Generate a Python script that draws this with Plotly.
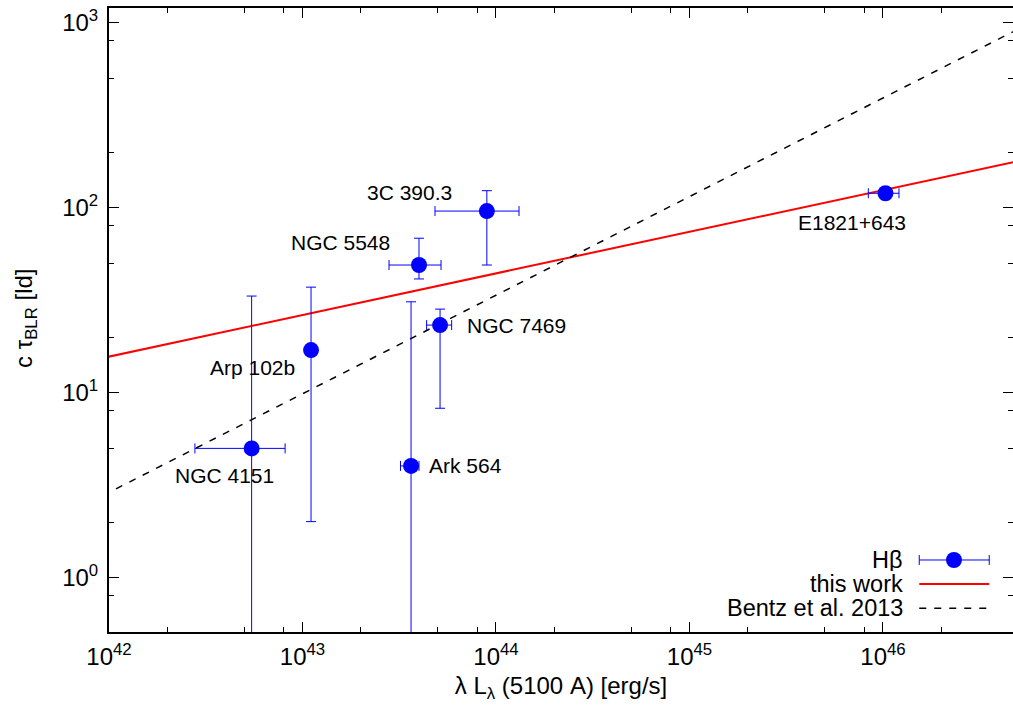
import numpy as np
import plotly.graph_objects as go

# ---------------- data ----------------
names = ["NGC 4151", "Arp 102b", "Ark 564", "NGC 7469", "NGC 5548", "3C 390.3", "E1821+643"]
lum = [5.46e42, 1.107e43, 3.64e43, 5.14e43, 4.0e43, 8.97e43, 1.03e46]
lum_lo = [2.78e42, 1.107e43, 3.21e43, 4.38e43, 2.80e43, 4.84e43, 8.4e45]
lum_hi = [8.13e42, 1.107e43, 4.00e43, 5.90e43, 5.20e43, 1.315e44, 1.21e46]
tau = [5.0, 17.0, 4.02, 23.2, 49.0, 95.9, 119.7]
tau_lo = [0.01, 2.01, 0.01, 8.24, 41.2, 49.0, 119.7]
tau_hi = [33.3, 37.2, 31.0, 28.3, 68.4, 123.6, 119.7]

# relations: log tau = K + alpha * log(L / 1e44)
this_work_K, this_work_alpha = 1.645, 0.225
bentz_K, bentz_alpha = 1.527, 0.533
line_L = [1e41, 1e47]

x_tickvals = [1e42, 1e43, 1e44, 1e45, 1e46]
x_ticktext = ["10<sup>42</sup>", "10<sup>43</sup>", "10<sup>44</sup>", "10<sup>45</sup>", "10<sup>46</sup>"]
y_tickvals = [1, 10, 100, 1000]
y_ticktext = ["10<sup>0</sup>", "10<sup>1</sup>", "10<sup>2</sup>", "10<sup>3</sup>"]

# label placement (pixel offsets from point)
label_anchor = ["center", "center", "left", "left", "right", "right", "right"]
label_dx = [-27, -59, 16, 25, -27, -33, 23]
label_dy = [-27, -17, 0, 0, 23, 19, -29]

FONT = "Liberation Sans, Arial, sans-serif"

fig = go.Figure()

def rel(K, a):
    return [10 ** (K + a * (np.log10(L) - 44.0)) for L in line_L]

fig.add_trace(go.Scatter(
    x=line_L, y=rel(this_work_K, this_work_alpha), mode="lines",
    line=dict(color="#ff0000", width=2), showlegend=False, hoverinfo="skip"))
fig.add_trace(go.Scatter(
    x=line_L, y=rel(bentz_K, bentz_alpha), mode="lines",
    line=dict(color="black", width=1.5, dash="7px,8px"), showlegend=False, hoverinfo="skip"))

fig.add_trace(go.Scatter(
    x=lum, y=tau, mode="markers",
    marker=dict(color="#0000ff", size=16),
    error_x=dict(type="data", symmetric=False,
                 array=[h - v for h, v in zip(lum_hi, lum)],
                 arrayminus=[v - l for v, l in zip(lum, lum_lo)],
                 color="#0000ff", thickness=1, width=5),
    error_y=dict(type="data", symmetric=False,
                 array=[h - v for h, v in zip(tau_hi, tau)],
                 arrayminus=[v - l for v, l in zip(tau, tau_lo)],
                 color="#0000ff", thickness=1, width=5),
    showlegend=False, hoverinfo="skip"))

annotations = []
for n, L, t, anc, dx, dy in zip(names, lum, tau, label_anchor, label_dx, label_dy):
    annotations.append(dict(x=float(np.log10(L)), y=float(np.log10(t)), xref="x", yref="y", text=n,
                            showarrow=False, xanchor=anc, yanchor="middle",
                            xshift=dx, yshift=dy,
                            font=dict(family=FONT, size=21, color="black")))

# y-axis title (placed as rotated text left of the tick labels)
annotations.append(dict(x=0, y=0.5, xref="paper", yref="paper", text="c τ<sub>BLR</sub> [ld]",
                        showarrow=False, textangle=-90, xanchor="center", yanchor="middle",
                        xshift=-84, yshift=2,
                        font=dict(family=FONT, size=24, color="black")))

# custom gnuplot-style key (text right, sample left)
key_text_x = 0.8805
key_x0, key_x1, key_xm = 0.8963, 0.9737, 0.9347
key_y = [0.1154, 0.0769, 0.0380]
key_labels = ["Hβ", "this work", "Bentz et al. 2013"]
for lab, ky in zip(key_labels, key_y):
    annotations.append(dict(x=key_text_x, y=ky, xref="paper", yref="paper", text=lab,
                            showarrow=False, xanchor="right", yanchor="middle", height=22,
                            font=dict(family=FONT, size=23.5, color="black")))

shapes = [
    dict(type="line", xref="paper", yref="paper", x0=key_x0, x1=key_x1, y0=key_y[0], y1=key_y[0],
         line=dict(color="#0000ff", width=1)),
    dict(type="line", xref="paper", yref="paper", x0=key_x0, x1=key_x0,
         ysizemode="pixel", yanchor=key_y[0], y0=-5, y1=5, line=dict(color="#0000ff", width=1)),
    dict(type="line", xref="paper", yref="paper", x0=key_x1, x1=key_x1,
         ysizemode="pixel", yanchor=key_y[0], y0=-5, y1=5, line=dict(color="#0000ff", width=1)),
    dict(type="circle", xref="paper", yref="paper", xsizemode="pixel", ysizemode="pixel",
         xanchor=key_xm, yanchor=key_y[0], x0=-8, x1=8, y0=-8, y1=8,
         fillcolor="#0000ff", line=dict(color="#0000ff", width=0)),
    dict(type="line", xref="paper", yref="paper", x0=key_x0, x1=key_x1, y0=key_y[1], y1=key_y[1],
         line=dict(color="#ff0000", width=2)),
    dict(type="line", xref="paper", yref="paper", x0=key_x0, x1=key_x1, y0=key_y[2], y1=key_y[2],
         line=dict(color="black", width=1.5, dash="7px,8px")),
]

x_minor = [float(m) * 10.0 ** e for e in range(41, 47) for m in (2, 5, 8)]
y_minor = [float(m) * 10.0 ** e for e in range(-1, 4) for m in (2, 5, 8)]

axis_common = dict(type="log", showgrid=False, zeroline=False, showline=True, linecolor="black",
                   linewidth=2, ticks="inside", ticklen=10, tickwidth=1, tickcolor="black",
                   mirror="allticks", tickfont=dict(family=FONT, size=24, color="black"))

fig.update_layout(
    width=1013, height=711, autosize=False,
    margin=dict(l=109, r=0, t=8, b=79, autoexpand=False),
    paper_bgcolor="white", plot_bgcolor="white",
    xaxis=dict(range=[42, 46.672], tickmode="array", tickvals=x_tickvals, ticktext=x_ticktext,
               ticklabelstandoff=2,
               minor=dict(ticks="inside", ticklen=5, tickwidth=1, tickcolor="black",
                          tickmode="array", tickvals=x_minor),
               title=dict(text="λ L<sub>λ</sub> (5100 A) [erg/s]", standoff=8,
                          font=dict(family=FONT, size=24, color="black")),
               **axis_common),
    yaxis=dict(range=[-0.2935, 3.0795], tickmode="array", tickvals=y_tickvals, ticktext=y_ticktext,
               ticklabelstandoff=4,
               minor=dict(ticks="inside", ticklen=5, tickwidth=1, tickcolor="black",
                          tickmode="array", tickvals=y_minor),
               **axis_common),
    annotations=annotations,
    shapes=shapes,
    showlegend=False,
)

page_fix = ("document.documentElement.style.margin='0';document.body.style.margin='0';"
            "document.body.style.padding='0';document.body.style.overflow='hidden';"
            "document.documentElement.style.overflow='hidden';")

fig.write_html("out.html", post_script=page_fix,
               config={"responsive": False, "displayModeBar": False})
